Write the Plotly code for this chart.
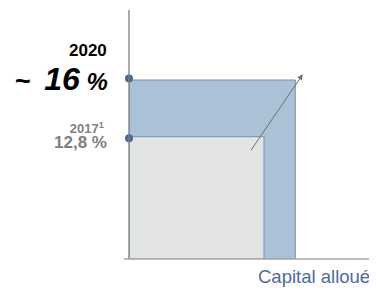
import plotly.graph_objects as go

# Data (conceptual chart: return vs allocated capital)
years = ["2017", "2020"]
rates = [12.8, 16.0]          # return in %
capital = [1.0, 1.232]        # allocated capital (relative)
rate_labels = ["12,8 %", "16 %"]
x_title = "Capital alloué"

# page body has an 8px margin: figure drawn from (8, 8)
OFF = 8
W, H = 377 - OFF, 291 - OFF
L, R, T, B = 129.3 - OFF, 5.3, 10 - OFF, 32
pw, ph = W - L - R, H - T - B
x_range = [0, 1.80]
y_range = [5.9, 19.95]

def px(xp):
    return (xp - OFF - L) / pw

def py(yp):
    return (H - B - (yp - OFF)) / ph

fig = go.Figure()

# 2020 rectangle (blue)
fig.add_trace(go.Scatter(
    x=[0, capital[1], capital[1], 0, 0],
    y=[y_range[0], y_range[0], rates[1], rates[1], y_range[0]],
    fill="toself", fillcolor="#abc1d6", mode="lines",
    line=dict(color="#7391b8", width=1), hoverinfo="skip", showlegend=False))

# 2017 rectangle (grey)
fig.add_trace(go.Scatter(
    x=[0, capital[0], capital[0], 0, 0],
    y=[y_range[0], y_range[0], rates[0], rates[0], y_range[0]],
    fill="toself", fillcolor="#e2e3e3", mode="lines",
    line=dict(color="#7391b8", width=1), hoverinfo="skip", showlegend=False))

# Dots on y axis
fig.add_trace(go.Scatter(
    x=[0, 0], y=[rates[1] + 0.08, rates[0] - 0.08], mode="markers",
    marker=dict(color="#4b6797", size=8), hoverinfo="skip",
    showlegend=False, cliponaxis=False))

# Arrow
fig.add_annotation(x=1.287, y=16.32, ax=0.896, ay=11.95,
                   xref="x", yref="y", axref="x", ayref="y",
                   showarrow=True, arrowhead=2, arrowsize=1.1, arrowwidth=1,
                   arrowcolor="#6e6e6e", text="")

# Axes lines
fig.add_shape(type="line", xref="paper", yref="paper",
              x0=0, x1=0, y0=0, y1=1, line=dict(color="#7f7f7f", width=1.3))
fig.add_shape(type="line", xref="paper", yref="paper",
              x0=px(124), x1=1, y0=0, y1=0, line=dict(color="#a6a6a6", width=1.3))

font = "Liberation Sans, Arial, sans-serif"

fig.add_annotation(xref="paper", yref="paper", x=px(109.5), y=py(50),
                   xanchor="right", yanchor="middle", showarrow=False,
                   text="<b>" + years[1] + "</b>",
                   font=dict(family=font, size=17, color="#000000"))
fig.add_annotation(xref="paper", yref="paper", x=px(110), y=py(79),
                   xanchor="right", yanchor="middle", showarrow=False,
                   text="<b><span style='font-size:27px'>~</span>  <i><span style='font-size:32px'>16</span> <span style='font-size:24px'>%</span></i></b>",
                   font=dict(family=font, size=24, color="#000000"))
fig.add_annotation(xref="paper", yref="paper", x=px(109), y=py(135.5),
                   xanchor="right", yanchor="middle", showarrow=False,
                   align="right",
                   text="<b><span style='font-size:13px'>" + years[0] + "<sup>1</sup></span></b> <br>"
                        "<b><span style='font-size:17px'>" + rate_labels[0] + "</span></b>",
                   font=dict(family=font, size=11.5, color="#808080"))
fig.add_annotation(xref="paper", yref="paper", x=px(371.5), y=py(276),
                   xanchor="right", yanchor="middle", showarrow=False,
                   text=x_title,
                   font=dict(family=font, size=18.5, color="#4e6a9c"))

fig.update_layout(
    width=W, height=H,
    margin=dict(l=L, r=R, t=T, b=B, pad=0),
    paper_bgcolor="white", plot_bgcolor="white",
    xaxis=dict(range=x_range, visible=False, fixedrange=True),
    yaxis=dict(range=y_range, visible=False, fixedrange=True),
)

fig.write_html("out.html")
